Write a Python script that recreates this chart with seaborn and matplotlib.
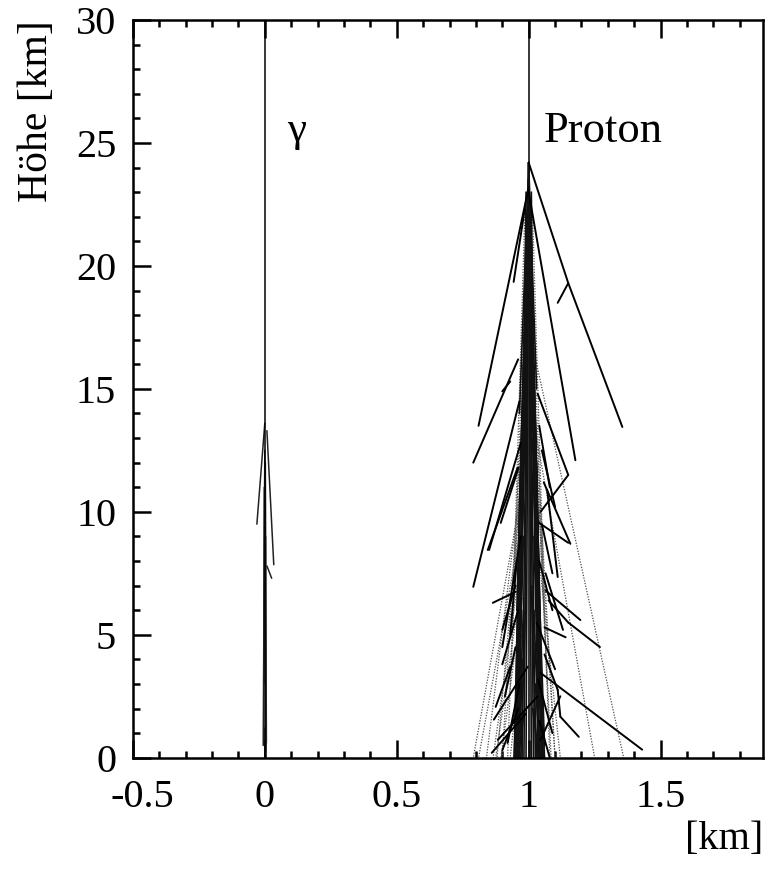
import numpy as np
import pandas as pd
import matplotlib
matplotlib.use("Agg")
import matplotlib.pyplot as plt
import matplotlib.transforms as mtransforms
from matplotlib.ticker import MultipleLocator, FuncFormatter
import seaborn as sns

# ---- primary particles: x0, h0, x1, h1 (km) ----
prim_x0 = [0.0, 1.0]
prim_h0 = [30.0, 30.0]
prim_x1 = [0.0, 1.0]
prim_h1 = [0.0, 24.2]

# ---- gamma shower tracks ----
gam_x0 = [0.0, 0.008, 0.008, 0.0, 0.002, -0.002, 0.003, 0.0]
gam_h0 = [13.6, 13.3, 7.8, 12.5, 12.0, 11.0, 9.0, 1.2]
gam_x1 = [-0.03, 0.034, 0.026, -0.006, 0.006, -0.004, 0.004, 0.0]
gam_h1 = [9.5, 7.85, 7.3, 0.5, 0.6, 3.0, 0.3, 0.0]

# ---- proton shower: outer solid tracks ----
pro_x0 = [1.0, 1.15, 1.15, 1.0, 1.0, 0.985, 0.96, 0.93, 0.965, 0.958,
          0.962, 1.034, 1.15, 1.057, 1.04, 1.07, 0.951, 1.064, 1.075, 1.15,
          1.064, 1.06, 0.93, 0.996, 1.034, 0.99, 1.12, 1.045, 1.06, 1.11,
          1.12, 0.97, 0.96, 0.95, 1.04, 1.05, 1.03, 0.97, 0.955, 1.04,
          0.965, 1.035, 0.96, 1.04, 0.95, 1.05]
pro_h0 = [24.2, 19.3, 19.3, 23.0, 23.2, 22.3, 16.2, 15.3, 14.5, 11.8,
          11.8, 14.8, 11.5, 11.2, 9.55, 10.9, 6.75, 6.8, 6.4, 5.5,
          7.5, 5.3, 3.7, 3.7, 2.5, 1.8, 2.5, 3.45, 4.2, 2.76,
          1.67, 12.8, 6.0, 4.5, 8.0, 12.5, 5.5, 9.0, 8.0, 13.5,
          3.0, 3.2, 2.0, 1.5, 7.0, 9.5]
pro_x1 = [1.15, 1.355, 1.11, 1.177, 0.81, 0.943, 0.79, 0.90, 0.79, 0.845,
          0.894, 1.15, 1.045, 1.158, 1.15, 1.11, 0.864, 1.196, 1.15, 1.27,
          1.13, 1.14, 0.875, 0.868, 0.883, 0.86, 1.045, 1.43, 1.11, 1.12,
          1.19, 0.85, 0.90, 0.91, 1.09, 1.10, 1.10, 0.90, 0.93, 1.08,
          0.92, 1.09, 0.90, 1.08, 0.90, 1.09]
pro_h1 = [19.3, 13.45, 18.5, 12.1, 13.5, 19.35, 12.0, 14.9, 6.95, 8.45,
          9.55, 11.5, 10.0, 8.7, 8.74, 7.35, 6.3, 5.6, 5.5, 4.5,
          5.2, 4.9, 2.07, 1.55, 0.73, 0.2, 0.73, 0.33, 2.76, 1.67,
          0.85, 8.45, 3.8, 2.5, 6.0, 10.2, 3.6, 4.5, 5.0, 11.0,
          0.6, 1.0, 0.3, 0.0, 5.2, 7.5]

# ---- proton shower: dense core tracks ----
core_x0 = [1.0, 1.0, 1.0, 1.0, 1.0, 1.0, 1.0, 0.998, 1.002, 0.995,
           1.005, 0.99, 1.01, 0.985, 1.015, 0.98, 1.02, 0.975, 1.025, 0.97,
           1.03, 0.975, 1.03, 0.97, 1.035, 0.98, 1.02, 0.975, 1.03, 0.99,
           1.01, 0.985, 1.015, 0.98, 1.02, 0.99, 1.01, 1.0, 1.0, 0.995,
           1.005, 0.99, 1.01, 0.985, 1.015, 0.98, 1.02, 0.97, 1.03, 0.975,
           1.025, 0.985, 1.015, 0.99, 1.01]
core_h0 = [24.2, 24.2, 24.2, 24.2, 24.2, 24.2, 24.2, 23.5, 23.5, 22.0,
           22.0, 20.0, 20.0, 18.0, 18.0, 16.0, 16.0, 14.0, 14.0, 12.0,
           12.0, 10.0, 10.0, 8.0, 8.0, 6.0, 6.0, 4.0, 4.0, 21.0,
           21.0, 15.0, 15.0, 11.0, 11.0, 7.0, 7.0, 24.2, 24.2, 19.0,
           19.0, 17.0, 17.0, 13.0, 13.0, 9.0, 9.0, 5.0, 5.0, 3.0,
           3.0, 2.0, 2.0, 23.0, 23.0]
core_x1 = [0.96, 0.975, 0.99, 1.0, 1.01, 1.025, 1.04, 0.965, 1.03, 0.97,
           1.035, 0.955, 1.045, 0.95, 1.05, 0.96, 1.04, 0.945, 1.055, 0.955,
           1.045, 0.95, 1.06, 0.955, 1.05, 0.96, 1.04, 0.965, 1.035, 0.985,
           1.02, 0.95, 1.05, 0.945, 1.06, 0.97, 1.03, 0.982, 1.018, 0.958,
           1.042, 0.962, 1.038, 0.952, 1.048, 0.958, 1.042, 0.948, 1.055, 0.955,
           1.045, 0.96, 1.04, 0.975, 1.025]
core_h1 = [0.0, 0.0, 0.0, 0.0, 0.0, 0.0, 0.0, 14.0, 15.0, 10.0,
           9.0, 6.0, 5.0, 2.0, 1.5, 8.0, 7.0, 0.0, 0.0, 4.0,
           3.0, 0.5, 0.5, 0.0, 0.0, 0.0, 0.0, 0.0, 0.0, 12.0,
           12.0, 0.0, 0.0, 0.0, 0.0, 0.0, 0.0, 0.0, 0.0, 3.0,
           3.0, 1.0, 1.0, 0.0, 0.0, 0.0, 0.0, 0.0, 0.0, 0.0,
           0.0, 0.0, 0.0, 8.0, 8.0]

# ---- proton shower: electromagnetic (dotted) tracks ----
em_x0 = [1.02, 1.03, 1.04, 0.96, 0.965, 0.97, 0.97, 0.975, 0.98, 0.98,
         0.99, 1.01, 0.99, 1.01, 1.03, 0.985, 1.015, 0.975, 1.025, 0.97,
         1.03]
em_h0 = [16.5, 12.0, 10.0, 10.0, 9.0, 8.0, 7.0, 6.5, 5.0, 12.0,
         20.0, 20.0, 17.0, 17.0, 13.0, 22.0, 22.0, 14.0, 14.0, 11.0,
         9.0]
em_x1 = [1.36, 1.10, 1.085, 0.79, 0.81, 0.865, 0.875, 0.895, 0.93, 0.84,
         0.92, 1.08, 0.93, 1.07, 1.25, 0.94, 1.06, 0.90, 1.10, 0.88,
         1.12]
em_h1 = [0.0, 0.0, 0.0, 0.0, 0.0, 0.0, 0.0, 0.0, 0.0, 0.0,
         0.0, 0.0, 3.0, 3.0, 0.0, 6.0, 6.0, 0.0, 0.0, 0.0,
         0.0]

x_ticks = [-0.5, 0.0, 0.5, 1.0, 1.5]
y_ticks = [0, 5, 10, 15, 20, 25, 30]


def segments(x0, h0, x1, h1):
    rows = []
    for i, (a, b, c, d) in enumerate(zip(x0, h0, x1, h1)):
        rows.append((i, a, b))
        rows.append((i, c, d))
    return pd.DataFrame(rows, columns=["seg", "x", "h"])


sns.set_style("ticks")
plt.rcParams["font.family"] = ["Liberation Serif", "DejaVu Serif"]
plt.rcParams["axes.unicode_minus"] = False
plt.rcParams["text.color"] = "black"
plt.rcParams["axes.labelcolor"] = "black"

fig = plt.figure(figsize=(7.68, 8.69), dpi=100)
ax = fig.add_axes([0.173, 0.128, 0.8205, 0.849])

common = dict(x="x", y="h", units="seg", estimator=None, sort=False,
              legend=False, ax=ax)

sns.lineplot(data=segments(em_x0, em_h0, em_x1, em_h1), color="#505050",
             lw=0.9, linestyle=(0, (1.0, 1.2)), **common)
sns.lineplot(data=segments(core_x0, core_h0, core_x1, core_h1),
             color="#111111", lw=1.2, **common)
sns.lineplot(data=segments(pro_x0, pro_h0, pro_x1, pro_h1), color="black",
             lw=1.4, **common)
sns.lineplot(data=segments(gam_x0, gam_h0, gam_x1, gam_h1), color="#222222",
             lw=1.1, **common)
sns.lineplot(data=segments(prim_x0, prim_h0, prim_x1, prim_h1),
             color="black", lw=1.1, **common)

ax.set_xlim(-0.5, 1.888)
ax.set_ylim(0, 30)
ax.set_xticks(x_ticks)
ax.set_yticks(y_ticks)
ax.xaxis.set_minor_locator(MultipleLocator(0.1))
ax.yaxis.set_minor_locator(MultipleLocator(1))
ax.xaxis.set_major_formatter(FuncFormatter(lambda v, p: f"{v:g}"))
ax.yaxis.set_major_formatter(FuncFormatter(lambda v, p: f"{v:g}"))

ax.tick_params(which="both", direction="in", top=True, right=False,
               labelsize=29, colors="black", width=1.8)
ax.tick_params(axis="x", which="major", length=13, pad=15)
ax.tick_params(axis="y", which="major", length=13, pad=12)
ax.tick_params(which="minor", length=5)
for s in ax.spines.values():
    s.set_linewidth(1.8)
    s.set_color("black")

# the leading "-0.5" label sits a little right of its tick
first = ax.get_xticklabels()[0]
first.set_transform(first.get_transform() +
                    mtransforms.ScaledTranslation(10 / 100, 0, fig.dpi_scale_trans))

ax.set_xlabel("[km]", loc="right", fontsize=29, labelpad=4)
ax.set_ylabel("Höhe [km]", loc="top", fontsize=30, labelpad=14)

ax.text(0.085, 25.5, "γ", fontsize=31, ha="left", va="center")
ax.text(1.057, 25.5, "Proton", fontsize=32, ha="left", va="center")

fig.savefig("out.png", dpi=100, facecolor="white")
